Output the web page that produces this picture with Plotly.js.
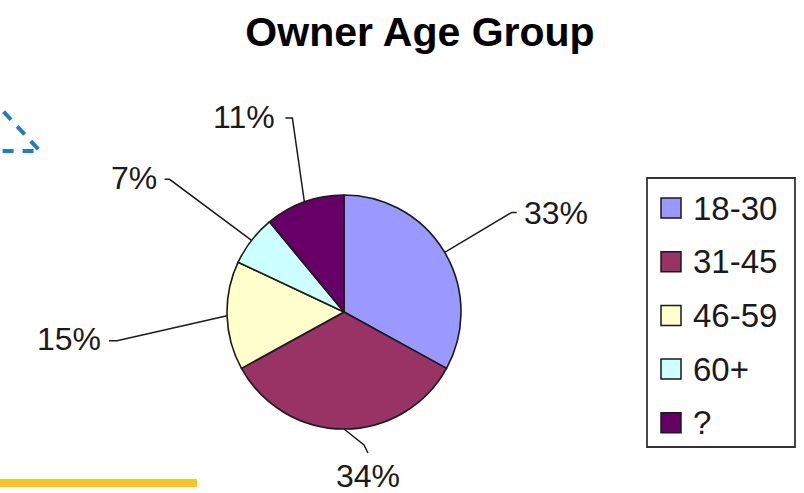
<!DOCTYPE html>
<html>
<head>
<meta charset="utf-8">
<script src="https://cdn.plot.ly/plotly-3.0.1.min.js"></script>
<style>
  html, body { margin: 0; padding: 0; background: #ffffff; }
  #chart { width: 804px; height: 493px; }
</style>
</head>
<body>
<div id="chart"></div>
<script>
// ---- data ----
var categories = ["18-30", "31-45", "46-59", "60+", "?"];
var values = [33, 34, 15, 7, 11];
var colors = ["#9999FF", "#993366", "#FFFFCC", "#CCFFFF", "#660066"];
var chartTitle = "Owner Age Group";

// ---- layout config (pixels) ----
var W = 804, H = 493;
var pieCx = 344, pieCy = 312, pieR = 117;
// leader line offsets relative to each slice's edge point, and label anchors
var leader = [
  {elbow: [67, -40], end: [72, -40], text: [5, 1], xanchor: "left"},
  {elbow: [20, 16], end: [24, 24], text: [0, 23], xanchor: "center"},
  {elbow: [-110, 25], end: [-118, 25], text: [-6, -2], xanchor: "right"},
  {elbow: [-82, -61], end: [-87, -61], text: [-6, -1], xanchor: "right"},
  {elbow: [-12, -84], end: [-19, -84], text: [-8, -1], xanchor: "right"}
];

function px(x) { return x / W; }
function py(y) { return 1 - y / H; }

var FONT = "Liberation Sans, Arial, sans-serif";

var trace = {
  type: "pie",
  labels: categories,
  values: values,
  sort: false,
  direction: "clockwise",
  rotation: 0,
  textinfo: "none",
  hoverinfo: "label+percent",
  showlegend: false,
  marker: { colors: colors, line: { color: "#1a1a1a", width: 1.6 } },
  domain: { x: [px(pieCx - pieR), px(pieCx + pieR)], y: [py(pieCy + pieR), py(pieCy - pieR)] }
};

var shapes = [];
var annotations = [];

// labels + leader lines computed from data
var total = values.reduce(function (a, b) { return a + b; }, 0);
var cum = 0;
values.forEach(function (v, i) {
  var mid = (cum + v / 2) / total * 2 * Math.PI;
  cum += v;
  var ex = pieCx + pieR * Math.sin(mid);
  var ey = pieCy - pieR * Math.cos(mid);
  var L = leader[i];
  var bx = ex + L.elbow[0], by = ey + L.elbow[1];
  var nx = ex + L.end[0], ny = ey + L.end[1];
  shapes.push({
    type: "path", xref: "paper", yref: "paper",
    path: "M" + px(ex) + "," + py(ey) + " L" + px(bx) + "," + py(by) + " L" + px(nx) + "," + py(ny),
    line: { color: "#1a1a1a", width: 1.5 }
  });
  var pct = Math.round(v / total * 100) + "%";
  annotations.push({
    xref: "paper", yref: "paper",
    x: px(nx + L.text[0]), y: py(ny + L.text[1]),
    xanchor: L.xanchor, yanchor: "middle",
    text: pct, showarrow: false,
    font: { family: FONT, size: 32, color: "#1a1a1a" }
  });
});

// manual legend built from categories/colors
var lgLeft = 647, lgTop = 178, lgRight = 795, lgBottom = 447;
shapes.push({
  type: "rect", xref: "paper", yref: "paper",
  x0: px(lgLeft), x1: px(lgRight), y0: py(lgBottom), y1: py(lgTop),
  line: { color: "#333333", width: 1.8 }, fillcolor: "rgba(0,0,0,0)"
});
var firstY = 208, stepY = 53.7, sq = 20;
categories.forEach(function (c, i) {
  var cy = firstY + i * stepY;
  shapes.push({
    type: "rect", xref: "paper", yref: "paper",
    x0: px(661), x1: px(661 + sq), y0: py(cy + sq / 2), y1: py(cy - sq / 2),
    line: { color: "#1a1a1a", width: 1.5 }, fillcolor: colors[i]
  });
  annotations.push({
    xref: "paper", yref: "paper", x: px(691), y: py(cy),
    xanchor: "left", yanchor: "middle", text: c, showarrow: false,
    font: { family: FONT, size: 33, color: "#1a1a1a" }
  });
});

// slide decorations
shapes.push({
  type: "path", xref: "paper", yref: "paper",
  path: "M" + px(-10) + "," + py(97) + " L" + px(40) + "," + py(151) + " L" + px(-10) + "," + py(151),
  line: { color: "#1a7fc7", width: 4, dash: "11px,9px" }
});
shapes.push({
  type: "rect", xref: "paper", yref: "paper",
  x0: 0, x1: px(197), y0: py(487), y1: py(479),
  line: { width: 0 }, fillcolor: "#FBC420"
});

var layout = {
  width: W, height: H,
  margin: { l: 0, r: 0, t: 0, b: 0 },
  paper_bgcolor: "#ffffff",
  plot_bgcolor: "#ffffff",
  showlegend: false,
  title: {
    text: "<b>" + chartTitle + "</b>",
    x: px(420), xanchor: "center",
    y: py(32), yanchor: "middle", yref: "container", xref: "paper",
    font: { family: FONT, size: 41, color: "#000000" }
  },
  shapes: shapes,
  annotations: annotations
};

Plotly.newPlot("chart", [trace], layout, { displayModeBar: false, staticPlot: true });
</script>
</body>
</html>
